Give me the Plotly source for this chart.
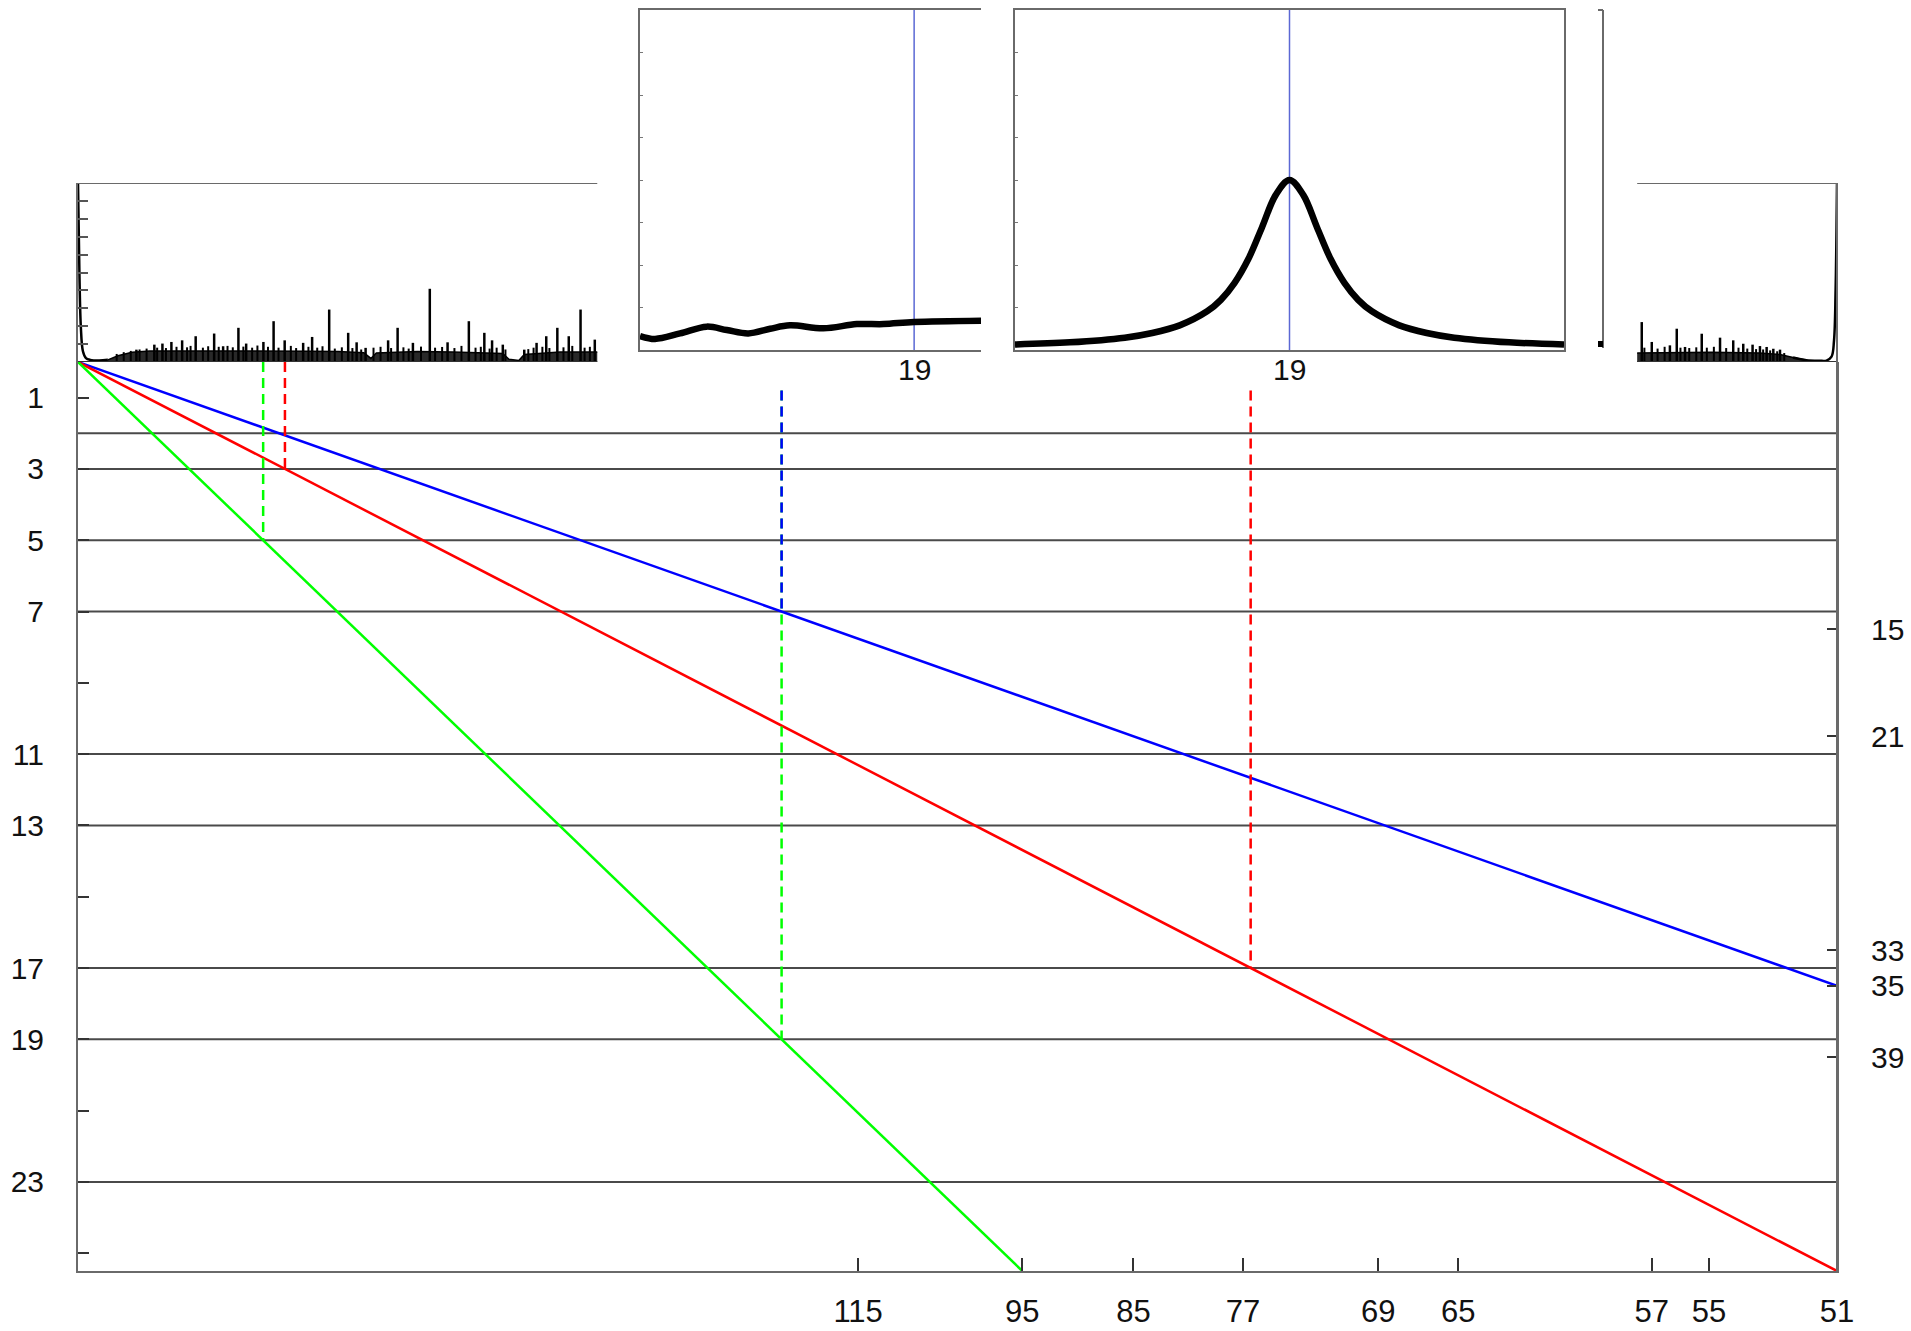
import plotly.graph_objects as go

W, H = 1911, 1331


def fx(px):
    return px / W


def fy(py):
    return 1 - py / H


# panel edges in pixels
L, R, T, B = 78, 1837, 362, 1271
SPEC_TOP = 183
IN_TOP, IN_BOT = 10, 350
IN1_L, IN1_R = 640, 981
IN2_L, IN2_R = 1015, 1564

FONT = "Liberation Sans, Arial, Helvetica, sans-serif"
AXIS_GRAY = "#6a6a6a"
GRID_GRAY = "#4a4a4a"

# ---- main panel: levels versus 1/period ----
period_ticks = [115, 95, 85, 77, 69, 65, 57, 55, 51]
x_max = 1 / 51
y_max = 25.5
left_ticks = [1, 3, 5, 7, 9, 11, 13, 15, 17, 19, 21, 23, 25]
left_labels = [1, 3, 5, 7, 11, 13, 17, 19, 23]
right_ticks = [15, 21, 33, 35, 39]
prime_levels = [2, 3, 5, 7, 11, 13, 17, 19, 23]

ray_colors = ["#0000ff", "#ff0000", "#00ff00"]
ray_end_period = [51, 51, 95]
ray_end_level = [17.5, 25.5, 25.5]

drop_period = [484.5, 433.5, 127.5, 127.5, 76.5]
drop_start = [0.0, 0.0, 0.8, 0.8, 0.8]
drop_level = [5, 3, 19, 7, 17]
drop_colors = ["#00ff00", "#ff0000", "#00ff00", "#0000ff", "#ff0000"]

# ---- top spectrum strip (normalised frequency 0..1) ----
edge_left_f = [0, 0.0008, 0.0016, 0.0028, 0.0045, 0.007, 0.012, 0.017]
edge_left_v = [10, 5.0, 2.0, 0.6, 0.22, 0.12, 0.09, 0.12]

band_left_f = [0.017, 0.0227, 0.0308, 0.0409, 0.0511, 0.0713, 0.0916, 0.1118,
               0.132, 0.148, 0.1625, 0.1665, 0.1696, 0.193, 0.213, 0.2415,
               0.245, 0.2506, 0.2537, 0.274, 0.2952]
band_left_v = [0.12, 0.35, 0.55, 0.62, 0.62, 0.62, 0.64, 0.62,
               0.6, 0.58, 0.52, 0.2, 0.5, 0.58, 0.56, 0.48,
               0.15, 0.08, 0.42, 0.56, 0.56]

band_right_f = [0.8864, 0.9, 0.9285, 0.956, 0.9676, 0.975, 0.9826]
band_right_v = [0.5, 0.52, 0.55, 0.5, 0.42, 0.25, 0.1]

edge_right_f = [0.975, 0.9826, 0.99, 0.994, 0.9969, 0.9983, 0.9992, 1.0]
edge_right_v = [0.25, 0.1, 0.07, 0.08, 0.3, 1.2, 4.0, 10]

# prominent lines
spike_f = [0.0332, 0.0434, 0.048, 0.0531, 0.0592, 0.0669, 0.0774, 0.0825,
           0.0912, 0.0956, 0.1054, 0.1112, 0.1175, 0.128, 0.1331, 0.1428,
           0.1536, 0.1584, 0.1635, 0.1763, 0.1817, 0.1904, 0.2, 0.2101,
           0.2222, 0.231, 0.2354, 0.2415, 0.2537, 0.2607, 0.2662, 0.2725,
           0.279, 0.2857, 0.2938,
           0.889, 0.8947, 0.905, 0.9089, 0.9136, 0.9231, 0.9335, 0.941,
           0.9467, 0.952, 0.9562, 0.96, 0.9638, 0.9676]
spike_v = [0.69, 0.97, 1.03, 1.12, 1.21, 1.44, 1.59, 0.88,
           1.91, 1.03, 1.12, 2.28, 1.21, 1.07, 1.40, 2.93,
           1.63, 1.10, 0.79, 1.21, 1.91, 1.07, 4.09, 1.10,
           2.28, 1.63, 1.21, 0.97, 0.69, 1.07, 1.44, 1.91,
           1.44, 2.93, 1.25,
           2.23, 1.12, 0.93, 1.86, 0.84, 1.58, 1.36, 1.21,
           1.02, 0.97, 0.89, 0.84, 0.74, 0.69]

# minor comb teeth
comb_f = [0.022, 0.026, 0.030, 0.035, 0.039, 0.045, 0.050, 0.056, 0.062, 0.064,
          0.071, 0.074, 0.080, 0.085, 0.088, 0.094, 0.099, 0.102, 0.108, 0.114,
          0.121, 0.124, 0.131, 0.136, 0.139, 0.146, 0.150, 0.156, 0.161, 0.168,
          0.172, 0.178, 0.185, 0.188, 0.195, 0.203, 0.207, 0.214, 0.218, 0.226,
          0.229, 0.234, 0.238, 0.243, 0.256, 0.259, 0.264, 0.268, 0.276, 0.281,
          0.288, 0.291,
          0.8905, 0.898, 0.902, 0.911, 0.916, 0.920, 0.926, 0.930, 0.937,
          0.944, 0.949, 0.954, 0.958, 0.962, 0.966, 0.970]
comb_v = [0.45, 0.55, 0.62, 0.70, 0.75, 0.80, 0.78, 0.85, 0.82, 0.90,
          0.80, 0.88, 0.85, 0.90, 0.82, 0.86, 0.80, 0.92, 0.85, 0.80,
          0.90, 0.78, 0.85, 0.80, 0.88, 0.75, 0.82, 0.78, 0.70, 0.80,
          0.85, 0.78, 0.82, 0.75, 0.86, 0.80, 0.84, 0.78, 0.90, 0.80,
          0.85, 0.75, 0.80, 0.70, 0.72, 0.80, 0.85, 0.78, 0.82, 0.90,
          0.80, 0.85,
          0.80, 0.75, 0.85, 0.80, 0.78, 0.82, 0.80, 0.85, 0.78,
          0.80, 0.75, 0.72, 0.70, 0.65, 0.60, 0.50]
spec_visible = [(0.0, 0.2952), (0.8864, 1.0)]

# ---- inset 1: slow ripple near the 19 line ----
ripple_x = [-0.8035, -0.7595, -0.686, -0.608, -0.549, -0.486, -0.422,
            -0.364, -0.266, -0.168, -0.09, 0.0, 0.196]
ripple_y = [0.33, 0.26, 0.39, 0.55, 0.47, 0.39, 0.50,
            0.58, 0.51, 0.61, 0.61, 0.66, 0.69]

# ---- inset 2: resonance peak at 19 ----
peak_x = [-1.0, -0.8, -0.6, -0.5, -0.4, -0.3, -0.25, -0.2, -0.15, -0.1, -0.05,
          0.0, 0.05, 0.1, 0.15, 0.2, 0.25, 0.3, 0.4, 0.5, 0.6, 0.8, 1.0]
peak_y = [0.13, 0.18, 0.29, 0.40, 0.58, 0.91, 1.18, 1.58, 2.14, 2.89, 3.65,
          4.0, 3.65, 2.89, 2.14, 1.58, 1.18, 0.91, 0.58, 0.40, 0.29, 0.18, 0.13]
inset_mark = 19

fig = go.Figure()

# prime level rules across the main panel
gx, gy = [], []
for lv in prime_levels:
    gx += [0, x_max, None]
    gy += [lv, lv, None]
fig.add_trace(go.Scatter(x=gx, y=gy, mode="lines",
                         line=dict(color=GRID_GRAY, width=2),
                         xaxis="x", yaxis="y", hoverinfo="skip"))

# rays from the origin
for col, n_end, lv_end in zip(ray_colors, ray_end_period, ray_end_level):
    fig.add_trace(go.Scatter(x=[0, 1 / n_end], y=[0, lv_end], mode="lines",
                             line=dict(color=col, width=2.5),
                             xaxis="x", yaxis="y"))

# dashed drop lines to the crossings
for n, y0, y1, col in zip(drop_period, drop_start, drop_level, drop_colors):
    fig.add_trace(go.Scatter(x=[1 / n, 1 / n], y=[y0, y1], mode="lines",
                             line=dict(color=col, width=2.5, dash="10px,6px"),
                             xaxis="x", yaxis="y"))

# invisible trace to activate the right-hand axis
fig.add_trace(go.Scatter(x=[None], y=[None], xaxis="x", yaxis="y2",
                         mode="lines", showlegend=False))

# spectrum strip
for bf, bv in [(band_left_f, band_left_v), (band_right_f, band_right_v)]:
    fig.add_trace(go.Scatter(x=bf, y=bv, mode="lines", fill="tozeroy",
                             fillcolor="rgba(0,0,0,0.84)",
                             line=dict(color="#000", width=1.5),
                             xaxis="x3", yaxis="y3"))
for ef, ev in [(edge_left_f, edge_left_v), (edge_right_f, edge_right_v)]:
    fig.add_trace(go.Scatter(x=ef, y=ev, mode="lines",
                             line=dict(color="#000", width=2.5, shape="spline"),
                             xaxis="x3", yaxis="y3"))
cx, cy = [], []
for f, v in zip(comb_f, comb_v):
    cx += [f, f, None]
    cy += [0.05, v, None]
fig.add_trace(go.Scatter(x=cx, y=cy, mode="lines",
                         line=dict(color="#000", width=2),
                         xaxis="x3", yaxis="y3"))
sx, sy = [], []
for f, v in zip(spike_f, spike_v):
    sx += [f, f, None]
    sy += [0.05, v, None]
fig.add_trace(go.Scatter(x=sx, y=sy, mode="lines",
                         line=dict(color="#000", width=2.5),
                         xaxis="x3", yaxis="y3"))

# inset 1
fig.add_trace(go.Scatter(x=[0, 0], y=[0, 8], mode="lines",
                         line=dict(color="#5b68d4", width=1.5),
                         xaxis="x4", yaxis="y4"))
fig.add_trace(go.Scatter(x=ripple_x, y=ripple_y, mode="lines",
                         line=dict(color="#000", width=6.5, shape="spline"),
                         xaxis="x4", yaxis="y4"))

# inset 2
fig.add_trace(go.Scatter(x=[0, 0], y=[0, 8], mode="lines",
                         line=dict(color="#5b68d4", width=1.5),
                         xaxis="x5", yaxis="y5"))
fig.add_trace(go.Scatter(x=peak_x, y=peak_y, mode="lines",
                         line=dict(color="#000", width=6.5, shape="spline"),
                         xaxis="x5", yaxis="y5"))

tickfont = dict(family=FONT, size=30, color="#111")
common = dict(automargin=False, showgrid=False, zeroline=False)

fig.update_layout(
    width=W, height=H, autosize=False,
    margin=dict(l=0, r=0, t=0, b=0, pad=0),
    paper_bgcolor="white", plot_bgcolor="white",
    showlegend=False,
    xaxis=dict(domain=[fx(L), fx(R)], range=[0, x_max], anchor="y",
               tickvals=[1 / n for n in period_ticks],
               ticktext=[str(n) for n in period_ticks],
               ticks="inside", ticklen=13, tickwidth=1.5, tickcolor="#333",
               showline=True, linecolor=AXIS_GRAY, linewidth=2,
               tickfont=dict(family=FONT, size=31, color="#111"),
               ticklabelstandoff=12, **common),
    yaxis=dict(domain=[fy(B), fy(T)], range=[y_max, 0], anchor="x",
               tickvals=left_ticks,
               ticktext=[str(v) if v in left_labels else "" for v in left_ticks],
               ticks="inside", ticklen=11, tickwidth=1.5, tickcolor="#333",
               showline=True, linecolor=AXIS_GRAY, linewidth=2,
               tickfont=tickfont, ticklabelstandoff=26, **common),
    yaxis2=dict(overlaying="y", side="right", anchor="x",
                range=[2 * y_max, 0], tickvals=right_ticks,
                ticktext=[str(v) for v in right_ticks],
                ticks="inside", ticklen=10, tickwidth=1.5, tickcolor="#333",
                showline=True, linecolor=AXIS_GRAY, linewidth=2,
                tickfont=tickfont, ticklabelstandoff=26, **common),
    xaxis3=dict(domain=[fx(L), fx(R)], range=[0, 1], anchor="y3",
                showticklabels=False, ticks="", showline=False, **common),
    yaxis3=dict(domain=[fy(T), fy(SPEC_TOP)], range=[0, 10], anchor="x3",
                tickvals=list(range(1, 10)), showticklabels=False,
                ticks="inside", ticklen=10, tickwidth=1.5, tickcolor="#555",
                showline=True, linecolor=AXIS_GRAY, linewidth=2, **common),
    xaxis4=dict(domain=[fx(IN1_L), fx(IN1_R)], range=[-0.8035, 0.196],
                anchor="y4", showticklabels=False, ticks="",
                showline=True, mirror=True, linecolor=AXIS_GRAY, linewidth=2,
                **common),
    yaxis4=dict(domain=[fy(IN_BOT), fy(IN_TOP)], range=[0, 8], anchor="x4",
                tickvals=list(range(1, 8)), showticklabels=False,
                ticks="inside", ticklen=3, tickcolor="#777",
                showline=True, linecolor=AXIS_GRAY, linewidth=2, **common),
    xaxis5=dict(domain=[fx(IN2_L), fx(IN2_R)], range=[-1, 1],
                anchor="y5", showticklabels=False, ticks="",
                showline=True, mirror=True, linecolor=AXIS_GRAY, linewidth=2,
                **common),
    yaxis5=dict(domain=[fy(IN_BOT), fy(IN_TOP)], range=[0, 8], anchor="x5",
                tickvals=list(range(1, 8)), showticklabels=False,
                ticks="inside", ticklen=3, tickcolor="#777",
                showline=True, mirror=True, linecolor=AXIS_GRAY, linewidth=2,
                **common),
)

# "19" marks under both insets
for xr in ("x4", "x5"):
    fig.add_annotation(x=0, xref=xr, y=fy(369), yref="paper",
                       text=str(inset_mark), showarrow=False,
                       xanchor="center", yanchor="middle",
                       font=dict(family=FONT, size=30, color="#111"))

shapes = []
# frame of the visible spectrum pieces
for a, b in spec_visible:
    for lv in (0, 10):
        shapes.append(dict(type="line", xref="x3", yref="y3", x0=a, x1=b,
                           y0=lv, y1=lv,
                           line=dict(color=AXIS_GRAY if lv else "#333",
                                     width=2)))
# right border through the strip and the main panel
shapes.append(dict(type="line", xref="paper", yref="paper",
                   x0=fx(R), x1=fx(R), y0=fy(B), y1=fy(SPEC_TOP),
                   line=dict(color=AXIS_GRAY, width=2)))
# edge of a third panel hidden behind the second inset
shapes.append(dict(type="line", xref="paper", yref="paper",
                   x0=fx(1603), x1=fx(1603), y0=fy(IN_BOT - 2), y1=fy(IN_TOP),
                   line=dict(color=AXIS_GRAY, width=2)))
shapes.append(dict(type="line", xref="paper", yref="paper",
                   x0=fx(1598), x1=fx(1603), y0=fy(IN_TOP), y1=fy(IN_TOP),
                   line=dict(color=AXIS_GRAY, width=2)))
shapes.append(dict(type="rect", xref="paper", yref="paper",
                   x0=fx(1598), x1=fx(1603), y0=fy(347), y1=fy(341),
                   fillcolor="#000", line=dict(width=0)))
fig.update_layout(shapes=shapes)

fig.write_html("out.html")
